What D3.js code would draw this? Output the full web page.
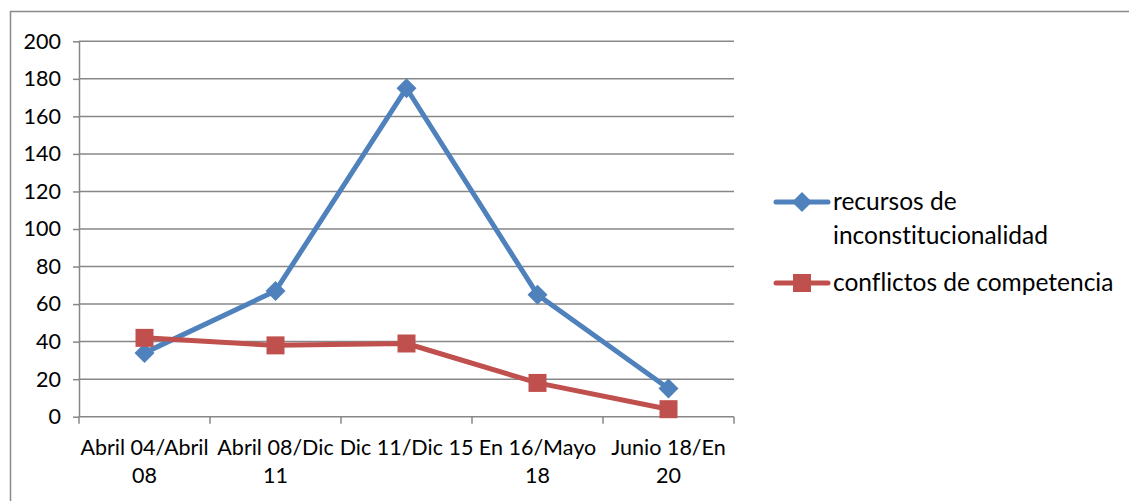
<!DOCTYPE html>
<html>
<head>
<meta charset="utf-8">
<script src="https://cdn.jsdelivr.net/npm/d3@7"></script>
<style>
  html, body { margin: 0; padding: 0; background: #fff; }
  svg { display: block; font-family: Lato, "Open Sans", sans-serif; font-variant-ligatures: none; }
</style>
</head>
<body>
<svg id="chart" width="1129" height="501"></svg>
<script>
// Period categories and the tick labels shown under each one
const categories = ["Abril 04/Abril 08", "Abril 08/Dic 11", "Dic 11/Dic 15", "En 16/Mayo 18", "Junio 18/En 20"];
const tickLabels = [["Abril 04/Abril", "08"], ["Abril 08/Dic", "11"], ["Dic 11/Dic 15"], ["En 16/Mayo", "18"], ["Junio 18/En", "20"]];

// Series values
const recursos = [34, 67, 175, 65, 15];
const conflictos = [42, 38, 39, 18, 4];

const seriesNames = ["recursos de inconstitucionalidad", "conflictos de competencia"];
const legendLines = [["recursos de", "inconstitucionalidad"], ["conflictos de competencia"]];

const yTicks = [0, 20, 40, 60, 80, 100, 120, 140, 160, 180, 200];

const colors = { blue: "#4F81BD", red: "#C0504D", grid: "#878787", text: "#000" };
const axisFont = 21.5;
const legendFont = 24.5;

const svg = d3.select("#chart");

// outer chart border
svg.append("rect")
  .attr("x", 10.5).attr("y", 11.5)
  .attr("width", 1140).attr("height", 500)
  .attr("fill", "none").attr("stroke", "#898989").attr("stroke-width", 1.5);

const plot = { left: 79, right: 734, top: 41.3, bottom: 416.7 };

const x = d3.scaleBand().domain(categories).range([plot.left, plot.right]);
const y = d3.scaleLinear().domain([0, 200]).range([plot.bottom, plot.top]);

// horizontal gridlines
svg.append("g").selectAll("line").data(yTicks.filter(d => d > 0)).join("line")
  .attr("x1", plot.left).attr("x2", plot.right)
  .attr("y1", d => y(d)).attr("y2", d => y(d))
  .attr("stroke", colors.grid).attr("stroke-width", 1.5);

// y axis
const yAxis = svg.append("g").attr("transform", `translate(${plot.left},0)`)
  .call(d3.axisLeft(y).tickValues(yTicks).tickSize(6).tickPadding(12).tickSizeOuter(0));
yAxis.attr("font-family", null).attr("font-size", null);
yAxis.select(".domain").attr("stroke", colors.grid).attr("stroke-width", 1.5);
yAxis.selectAll(".tick line").attr("stroke", colors.grid).attr("stroke-width", 1.5);
yAxis.selectAll(".tick text").attr("font-size", axisFont).attr("fill", colors.text);

// x axis: ticks at category boundaries
const xAxisG = svg.append("g");
xAxisG.append("line")
  .attr("x1", plot.left).attr("x2", plot.right)
  .attr("y1", plot.bottom).attr("y2", plot.bottom)
  .attr("stroke", colors.grid).attr("stroke-width", 1.5);
const boundaries = categories.map(c => x(c)).concat([x(categories[categories.length - 1]) + x.bandwidth()]);
xAxisG.selectAll("line.tk").data(boundaries).join("line").attr("class", "tk")
  .attr("x1", d => d).attr("x2", d => d)
  .attr("y1", plot.bottom).attr("y2", plot.bottom + 7)
  .attr("stroke", colors.grid).attr("stroke-width", 1.5);

const xLabels = xAxisG.selectAll("text").data(categories).join("text")
  .attr("text-anchor", "middle")
  .attr("font-size", axisFont)
  .attr("fill", colors.text);
xLabels.each(function(d, i) {
  const t = d3.select(this);
  tickLabels[i].forEach((line, j) => {
    t.append("tspan")
      .attr("x", x(d) + x.bandwidth() / 2)
      .attr("y", 455 + j * 28)
      .text(line);
  });
});

const cx = d => x(d) + x.bandwidth() / 2;

const line = d3.line().x((d, i) => cx(categories[i])).y(d => y(d));

// recursos de inconstitucionalidad
svg.append("path").datum(recursos)
  .attr("d", line).attr("fill", "none")
  .attr("stroke", colors.blue).attr("stroke-width", 5).attr("stroke-linejoin", "round");
svg.append("g").selectAll("path").data(recursos).join("path")
  .attr("transform", (d, i) => `translate(${cx(categories[i])},${y(d)})`)
  .attr("d", "M0,-10 L10,0 L0,10 L-10,0 Z")
  .attr("fill", colors.blue);

// conflictos de competencia
svg.append("path").datum(conflictos)
  .attr("d", line).attr("fill", "none")
  .attr("stroke", colors.red).attr("stroke-width", 5).attr("stroke-linejoin", "round");
svg.append("g").selectAll("rect").data(conflictos).join("rect")
  .attr("x", (d, i) => cx(categories[i]) - 9)
  .attr("y", d => y(d) - 9)
  .attr("width", 18).attr("height", 18)
  .attr("fill", colors.red);

// legend
const legend = svg.append("g");
const legendItems = [
  { color: colors.blue, shape: "diamond", markY: 202, textY: 210 },
  { color: colors.red, shape: "square", markY: 283, textY: 291 }
];
legendItems.forEach((it, i) => {
  legend.append("line")
    .attr("x1", 776).attr("x2", 828)
    .attr("y1", it.markY).attr("y2", it.markY)
    .attr("stroke", it.color).attr("stroke-width", 5).attr("stroke-linecap", "round");
  if (it.shape === "diamond") {
    legend.append("path")
      .attr("transform", `translate(802,${it.markY})`)
      .attr("d", "M0,-10 L10,0 L0,10 L-10,0 Z")
      .attr("fill", it.color);
  } else {
    legend.append("rect")
      .attr("x", 793).attr("y", it.markY - 9)
      .attr("width", 18).attr("height", 18)
      .attr("fill", it.color);
  }
  const t = legend.append("text").attr("font-size", legendFont).attr("fill", colors.text);
  legendLines[i].forEach((ln, j) => {
    t.append("tspan").attr("x", 833).attr("y", it.textY + j * 34).text(ln);
  });
});
</script>
</body>
</html>
